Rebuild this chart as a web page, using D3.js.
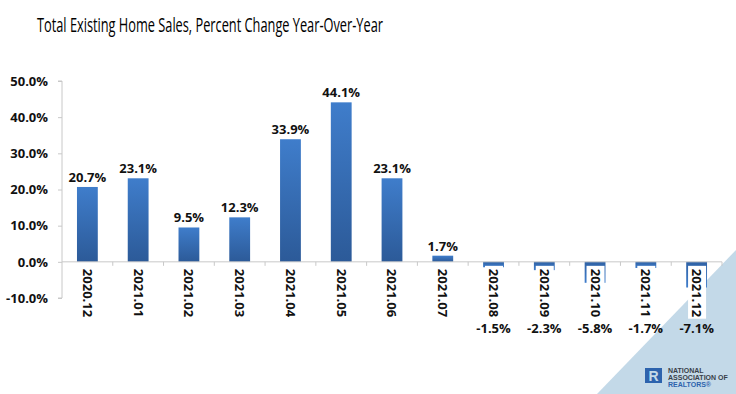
<!DOCTYPE html>
<html>
<head>
<meta charset="utf-8">
<script src="https://cdn.jsdelivr.net/npm/d3@7"></script>
<style>
  html, body { margin: 0; padding: 0; background: #fff; }
  svg { display: block; }
</style>
</head>
<body>
<svg id="chart" width="736" height="394"></svg>
<script>
const categories = ["2020.12","2021.01","2021.02","2021.03","2021.04","2021.05","2021.06","2021.07","2021.08","2021.09","2021.10","2021.11","2021.12"];
const values = [20.7, 23.1, 9.5, 12.3, 33.9, 44.1, 23.1, 1.7, -1.5, -2.3, -5.8, -1.7, -7.1];
const yTicks = [-10, 0, 10, 20, 30, 40, 50];
const titleText = "Total Existing Home Sales, Percent Change Year-Over-Year";

const svg = d3.select("#chart");
const font = "'Open Sans', 'Liberation Sans', sans-serif";
const pct = d => d3.format(".1f")(d).replace("\u2212", "-") + "%";

// background triangle
svg.append("path")
  .attr("d", "M597,394 L736,250 L736,394 Z")
  .attr("fill", "#c3d9e8");

// title
svg.append("text")
  .attr("x", 37).attr("y", 32)
  .attr("font-family", "'Open Sans', 'Liberation Sans', sans-serif")
  .attr("font-size", 19.5)
  .attr("textLength", 346)
  .attr("lengthAdjust", "spacingAndGlyphs")
  .attr("fill", "#000")
  .text(titleText);

const x = d3.scaleBand().domain(categories).range([62, 722]).paddingInner(0.59).paddingOuter(0.295);
const y = d3.scaleLinear().domain([-10, 50]).range([298, 81]);

const defs = svg.append("defs");
const grad = defs.append("linearGradient").attr("id", "barGrad")
  .attr("x1", 0).attr("y1", 0).attr("x2", 0).attr("y2", 1);
grad.append("stop").attr("offset", "0%").attr("stop-color", "#3f7dcb");
grad.append("stop").attr("offset", "100%").attr("stop-color", "#2c5a98");
const gradN = defs.append("linearGradient").attr("id", "barGradN")
  .attr("x1", 0).attr("y1", 0).attr("x2", 0).attr("y2", 1);
gradN.append("stop").attr("offset", "0%").attr("stop-color", "#2f62a6");
gradN.append("stop").attr("offset", "100%").attr("stop-color", "#3f7dcb");

// y axis
const yAxis = d3.axisLeft(y).tickValues(yTicks).tickSize(4).tickPadding(10)
  .tickFormat(pct);
const gy = svg.append("g").attr("transform", "translate(62,0)").call(yAxis);
gy.select(".domain").attr("stroke", "#c8c8c8").attr("d", "M-4," + y(50) + "H0V" + y(-10) + "H-4");
gy.selectAll(".tick line").attr("stroke", "#c8c8c8");
gy.selectAll(".tick text")
  .attr("font-family", font).attr("font-weight", 700).attr("font-size", 13)
  .attr("fill", "#111");

// bars
svg.append("g").selectAll("rect").data(values).join("rect")
  .attr("x", (d, i) => x(categories[i]))
  .attr("width", x.bandwidth())
  .attr("y", d => y(Math.max(0, d)))
  .attr("height", d => Math.abs(y(d) - y(0)))
  .attr("fill", d => d >= 0 ? "url(#barGrad)" : "url(#barGradN)");

// zero line with ticks between categories
const step = x.step();
svg.append("line")
  .attr("x1", 62).attr("x2", 722)
  .attr("y1", y(0)).attr("y2", y(0))
  .attr("stroke", "#c8c8c8");
const bounds = d3.range(1, categories.length + 1).map(i => 62 + i * step);
svg.append("g").selectAll("line").data(bounds).join("line")
  .attr("x1", d => d).attr("x2", d => d)
  .attr("y1", y(0)).attr("y2", y(0) + 4)
  .attr("stroke", "#c8c8c8");

// category labels (rotated, white background)
const catG = svg.append("g");
categories.forEach((c, i) => {
  const cx = x(c) + x.bandwidth() / 2;
  const g = catG.append("g").attr("transform", `translate(${cx},${y(0) + 7}) rotate(90)`);
  const t = g.append("text")
    .attr("x", 0).attr("y", 0)
    .attr("dy", "0.35em")
    .attr("font-family", font).attr("font-weight", 700).attr("font-size", 13)
    .attr("fill", "#111")
    .text(c);
  const bb = t.node().getBBox();
  g.insert("rect", "text")
    .attr("x", bb.x - 3).attr("y", bb.y)
    .attr("width", bb.width + 4).attr("height", bb.height)
    .attr("fill", "#fff");
});

// value labels
svg.append("g").selectAll("text").data(values).join("text")
  .attr("x", (d, i) => x(categories[i]) + x.bandwidth() / 2)
  .attr("y", d => d >= 0 ? y(d) - 5 : 333)
  .attr("text-anchor", "middle")
  .attr("font-family", font).attr("font-weight", 700).attr("font-size", 13)
  .attr("fill", "#111")
  .text(pct);

// logo
const logo = svg.append("g");
logo.append("rect").attr("x", 645).attr("y", 368).attr("width", 17).attr("height", 15).attr("fill", "#2d63ad");
logo.append("text").attr("x", 653.5).attr("y", 381).attr("text-anchor", "middle")
  .attr("font-family", "'Liberation Sans', sans-serif").attr("font-weight", 700)
  .attr("font-size", 14).attr("fill", "#c3d9e8").text("R");
const lt = [["NATIONAL", 372.5, "#3a3f4a"], ["ASSOCIATION OF", 379.5, "#3a3f4a"], ["REALTORS\u00AE", 386.5, "#2d63ad"]];
logo.selectAll("text.lt").data(lt).join("text").attr("class", "lt")
  .attr("x", 668).attr("y", d => d[1])
  .attr("font-family", "'Liberation Sans', sans-serif").attr("font-weight", 700)
  .attr("font-size", 7).attr("fill", d => d[2]).text(d => d[0]);
</script>
</body>
</html>
